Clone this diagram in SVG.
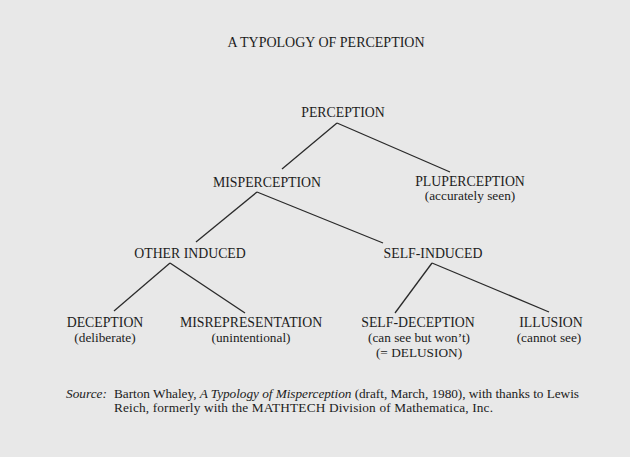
<svg xmlns="http://www.w3.org/2000/svg" width="630" height="457" viewBox="0 0 630 457">
<style>
text{font-family:"Liberation Serif","Times New Roman",serif;fill:#1c1c1c;text-anchor:middle}
.t{font-size:14px}
.n{font-size:13.8px}
.s{font-size:13.3px}
.f{font-size:13.3px;text-anchor:start}
.c line{stroke:#2a2a2a;stroke-width:1.3}
</style>
<rect width="630" height="457" fill="#e8e8e8"/>
<text class="t" x="326" y="47">A TYPOLOGY OF PERCEPTION</text>
<g class="c" id="connectors">
<line x1="337" y1="123" x2="282" y2="169"/>
<line x1="337" y1="123" x2="450" y2="172"/>
<line x1="257" y1="192" x2="196" y2="242"/>
<line x1="257" y1="192" x2="383" y2="243"/>
<line x1="170" y1="263" x2="114" y2="311"/>
<line x1="170" y1="263" x2="245" y2="313"/>
<line x1="432" y1="263" x2="395" y2="313"/>
<line x1="432" y1="263" x2="549" y2="312"/>
</g>
<g id="perception"><text class="n" x="343" y="117">PERCEPTION</text></g>
<g id="misperception"><text class="n" x="267" y="187">MISPERCEPTION</text></g>
<g id="pluperception"><text class="n" x="470" y="186">PLUPERCEPTION</text><text class="s" x="470" y="200">(accurately seen)</text></g>
<g id="other-induced"><text class="n" x="190" y="258">OTHER INDUCED</text></g>
<g id="self-induced"><text class="n" x="433" y="258">SELF-INDUCED</text></g>
<g id="deception"><text class="n" x="105" y="327">DECEPTION</text><text class="s" x="105" y="342">(deliberate)</text></g>
<g id="misrepresentation"><text class="n" x="251" y="327">MISREPRESENTATION</text><text class="s" x="251" y="342">(unintentional)</text></g>
<g id="self-deception"><text class="n" x="418" y="327">SELF-DECEPTION</text><text class="s" x="419" y="342">(can see but won’t)</text><text class="s" x="419" y="357">(= DELUSION)</text></g>
<g id="illusion"><text class="n" x="551" y="327">ILLUSION</text><text class="s" x="549" y="342">(cannot see)</text></g>
<text class="f" x="66" y="398" font-style="italic">Source:</text>
<text class="f" x="114" y="398" textLength="465" lengthAdjust="spacing">Barton Whaley, <tspan font-style="italic">A Typology of Misperception</tspan> (draft, March, 1980), with thanks to Lewis</text>
<text class="f" x="114" y="412" textLength="379" lengthAdjust="spacing">Reich, formerly with the MATHTECH Division of Mathematica, Inc.</text>
</svg>
